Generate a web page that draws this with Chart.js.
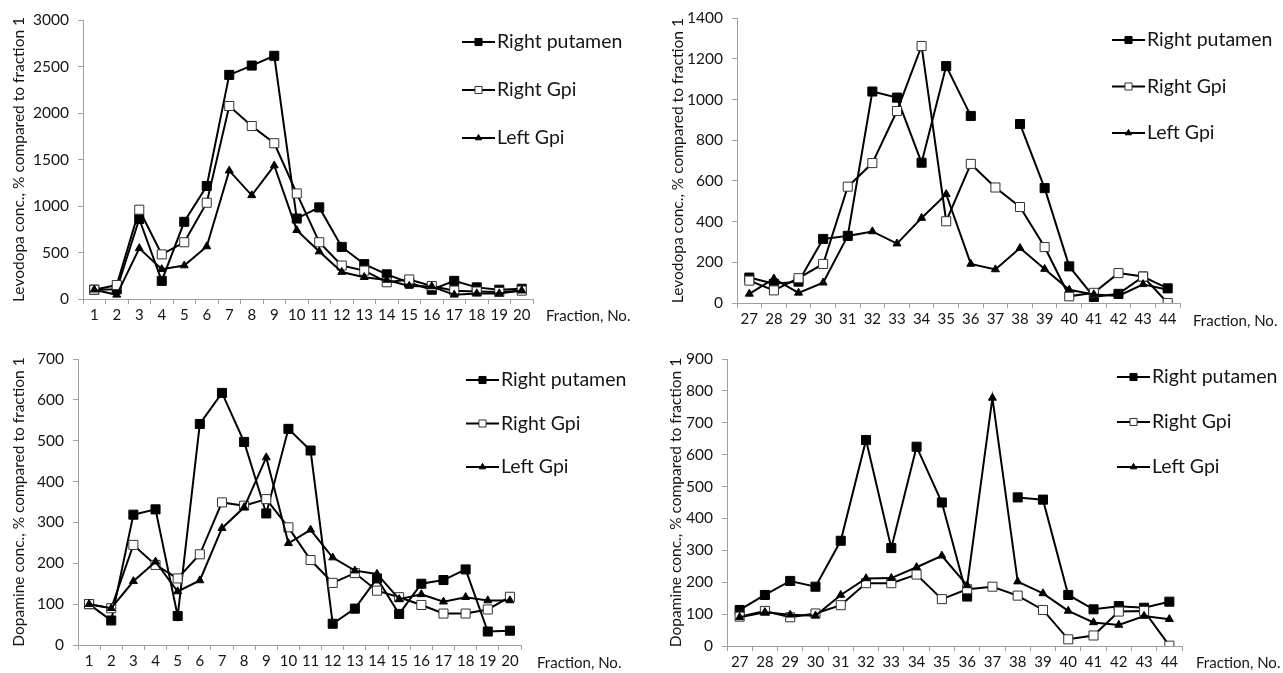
<!DOCTYPE html>
<html>
<head>
<meta charset="utf-8">
<script src="https://cdn.jsdelivr.net/npm/chart.js@4"></script>
<style>
  html, body { margin: 0; padding: 0; background: #fff; }
  body { width: 1283px; height: 673px; position: relative; overflow: hidden; }
  .panel { position: absolute; }
</style>
</head>
<body>
<div class="panel" style="left:0;top:0;width:640px;height:330px"><canvas id="levA"></canvas></div>
<div class="panel" style="left:640px;top:0;width:643px;height:330px"><canvas id="levB"></canvas></div>
<div class="panel" style="left:0;top:330px;width:640px;height:343px"><canvas id="dopA"></canvas></div>
<div class="panel" style="left:640px;top:330px;width:643px;height:343px"><canvas id="dopB"></canvas></div>
<script>
// fraction numbers
const fractionsEarly = ["1","2","3","4","5","6","7","8","9","10","11","12","13","14","15","16","17","18","19","20"];
const fractionsLate = ["27","28","29","30","31","32","33","34","35","36","37","38","39","40","41","42","43","44"];

const seriesNames = ["Right putamen", "Right Gpi", "Left Gpi"];

// levodopa, fractions 1-20
const levoPutamenEarly = [100, 105, 860, 195, 830, 1215, 2410, 2510, 2615, 865, 985, 560, 375, 265, 175, 100, 195, 125, 100, 110];
const levoRightGpiEarly = [100, 150, 960, 480, 610, 1035, 2075, 1860, 1675, 1135, 610, 360, 305, 180, 210, 140, 90, 80, 75, 90];
const levoLeftGpiEarly = [100, 45, 545, 320, 360, 565, 1380, 1115, 1435, 740, 510, 290, 235, 205, 140, 135, 45, 60, 60, 90];

// levodopa, fractions 27-44
const levoPutamenLate = [125, 95, 105, 315, 330, 1040, 1010, 690, 1165, 920, null, 880, 565, 180, 30, 45, 130, 72];
const levoRightGpiLate = [110, 62, 122, 192, 572, 688, 944, 1264, 402, 684, 568, 472, 275, 33, 50, 147, 130, 0];
const levoLeftGpiLate = [45, 120, 50, 100, 330, 352, 292, 418, 535, 192, 165, 270, 167, 65, 42, 35, 92, 65];

// dopamine, fractions 1-20
const dopaPutamenEarly = [100, 60, 319, 332, 71, 541, 617, 497, 322, 529, 476, 52, 89, 163, 76, 150, 159, 185, 33, 35];
const dopaRightGpiEarly = [100, 90, 245, 196, 163, 222, 349, 341, 357, 288, 208, 152, 176, 133, 117, 98, 77, 77, 87, 118];
const dopaLeftGpiEarly = [100, 90, 156, 204, 131, 158, 286, 337, 459, 249, 282, 214, 182, 174, 112, 124, 106, 117, 109, 109];

// dopamine, fractions 27-44
const dopaPutamenLate = [113, 160, 204, 186, 330, 646, 307, 625, 450, 155, null, 466, 459, 160, 115, 125, 120, 139];
const dopaRightGpiLate = [92, 110, 90, 102, 128, 197, 197, 224, 147, 178, 186, 158, 113, 21, 33, 108, 110, 1];
const dopaLeftGpiLate = [90, 106, 98, 95, 160, 212, 213, 247, 283, 190, 778, 202, 165, 110, 74, 66, 94, 84];

const TEXT = "#151515";
const AXIS = "#a0a0a0";
Chart.defaults.font.family = "Lato";
Chart.defaults.color = TEXT;

const markers = [
  { pointStyle: "rect", pointRadius: 6.4, pointBackgroundColor: "#000", pointBorderColor: "#000", legendRadius: 5 },
  { pointStyle: "rect", pointRadius: 6.4, pointBackgroundColor: "#fff", pointBorderColor: "#333", legendRadius: 5 },
  { pointStyle: "triangle", pointRadius: 4.6, pointBackgroundColor: "#000", pointBorderColor: "#000", legendRadius: 3.6 }
];

// legend + "Fraction, No." drawn by hand next to the plot
const sideText = {
  id: "sideText",
  afterDraw(chart, args, opts) {
    const ctx = chart.ctx;
    const area = chart.chartArea;
    ctx.save();
    ctx.textBaseline = "middle";
    ctx.font = "15px Lato";
    ctx.fillStyle = TEXT;
    ctx.fillText("Fraction, No.", area.right + opts.fracDx, area.bottom + opts.fracDy);

    chart.data.datasets.forEach((ds, i) => {
      const y = opts.y + i * opts.gap;
      ctx.strokeStyle = "#000";
      ctx.lineWidth = 2;
      ctx.beginPath();
      ctx.moveTo(opts.x, y);
      ctx.lineTo(opts.x + 33, y);
      ctx.stroke();
      ctx.fillStyle = ds.pointBackgroundColor;
      ctx.strokeStyle = ds.pointBorderColor;
      ctx.lineWidth = 1;
      Chart.helpers.drawPoint(ctx, { pointStyle: ds.pointStyle, radius: markers[i].legendRadius, borderWidth: 1, rotation: 0 }, opts.x + 16.5, y);
      ctx.fillStyle = TEXT;
      ctx.font = "19.5px Lato";
      ctx.fillText(ds.label, opts.x + 35, y);
    });
    ctx.restore();
  }
};

function makePanel(id, labels, values, yTitle, yMax, yStep, box) {
  new Chart(document.getElementById(id), {
    type: "line",
    data: {
      labels: labels,
      datasets: values.map((v, i) => ({
        label: seriesNames[i],
        data: v,
        borderColor: "#000",
        borderWidth: 2,
        tension: 0,
        spanGaps: false,
        pointStyle: markers[i].pointStyle,
        pointRadius: markers[i].pointRadius,
        pointBackgroundColor: markers[i].pointBackgroundColor,
        pointBorderColor: markers[i].pointBorderColor,
        pointBorderWidth: 1,
        order: 3 - i
      }))
    },
    options: {
      responsive: true,
      maintainAspectRatio: false,
      animation: false,
      events: [],
      layout: { padding: { left: 0, top: box.top, right: box.right, bottom: 0 } },
      plugins: {
        legend: { display: false },
        tooltip: { enabled: false },
        sideText: box.side
      },
      scales: {
        x: {
          offset: true,
          grid: { offset: true, drawOnChartArea: false, drawTicks: true, tickLength: 5, color: AXIS },
          border: { color: AXIS, width: 1 },
          ticks: { font: { size: 15 }, padding: 2, maxRotation: 0, autoSkip: false, color: TEXT },
          afterFit(scale) { scale.height = box.xHeight; }
        },
        y: {
          min: 0,
          max: yMax,
          grid: { drawOnChartArea: false, drawTicks: true, tickLength: 5, color: AXIS },
          border: { color: AXIS, width: 1 },
          ticks: { stepSize: yStep, font: { size: 15.5 }, padding: 9, color: TEXT, callback: (v) => String(v) },
          title: { display: true, text: yTitle, font: { size: 15.5 }, color: TEXT, padding: { top: box.titlePad, bottom: 0 } },
          afterFit(scale) { scale.width = box.yWidth; }
        }
      }
    },
    plugins: [sideText]
  });
}

makePanel("levA", fractionsEarly, [levoPutamenEarly, levoRightGpiEarly, levoLeftGpiEarly],
  "Levodopa conc., % compared to fraction 1", 3000, 500,
  { top: 20, right: 107, xHeight: 31, yWidth: 83, titlePad: 10, side: { x: 462, y: 42, gap: 48, fracDx: 13, fracDy: 17 } });

makePanel("levB", fractionsLate, [levoPutamenLate, levoRightGpiLate, levoLeftGpiLate],
  "Levodopa conc., % compared to fraction 1", 1400, 200,
  { top: 18, right: 103, xHeight: 27, yWidth: 97, titlePad: 29, side: { x: 472, y: 40, gap: 46.5, fracDx: 13, fracDy: 18 } });

makePanel("dopA", fractionsEarly, [dopaPutamenEarly, dopaRightGpiEarly, dopaLeftGpiEarly],
  "Dopamine conc., % compared to fraction 1", 700, 100,
  { top: 29, right: 119, xHeight: 28, yWidth: 78, titlePad: 10, side: { x: 466, y: 50, gap: 43.5, fracDx: 16, fracDy: 18 } });

makePanel("dopB", fractionsLate, [dopaPutamenLate, dopaRightGpiLate, dopaLeftGpiLate],
  "Dopamine conc., % compared to fraction 1", 900, 100,
  { top: 29, right: 101, xHeight: 27, yWidth: 87, titlePad: 27, side: { x: 477, y: 47, gap: 45, fracDx: 14, fracDy: 17 } });
</script>
</body>
</html>
